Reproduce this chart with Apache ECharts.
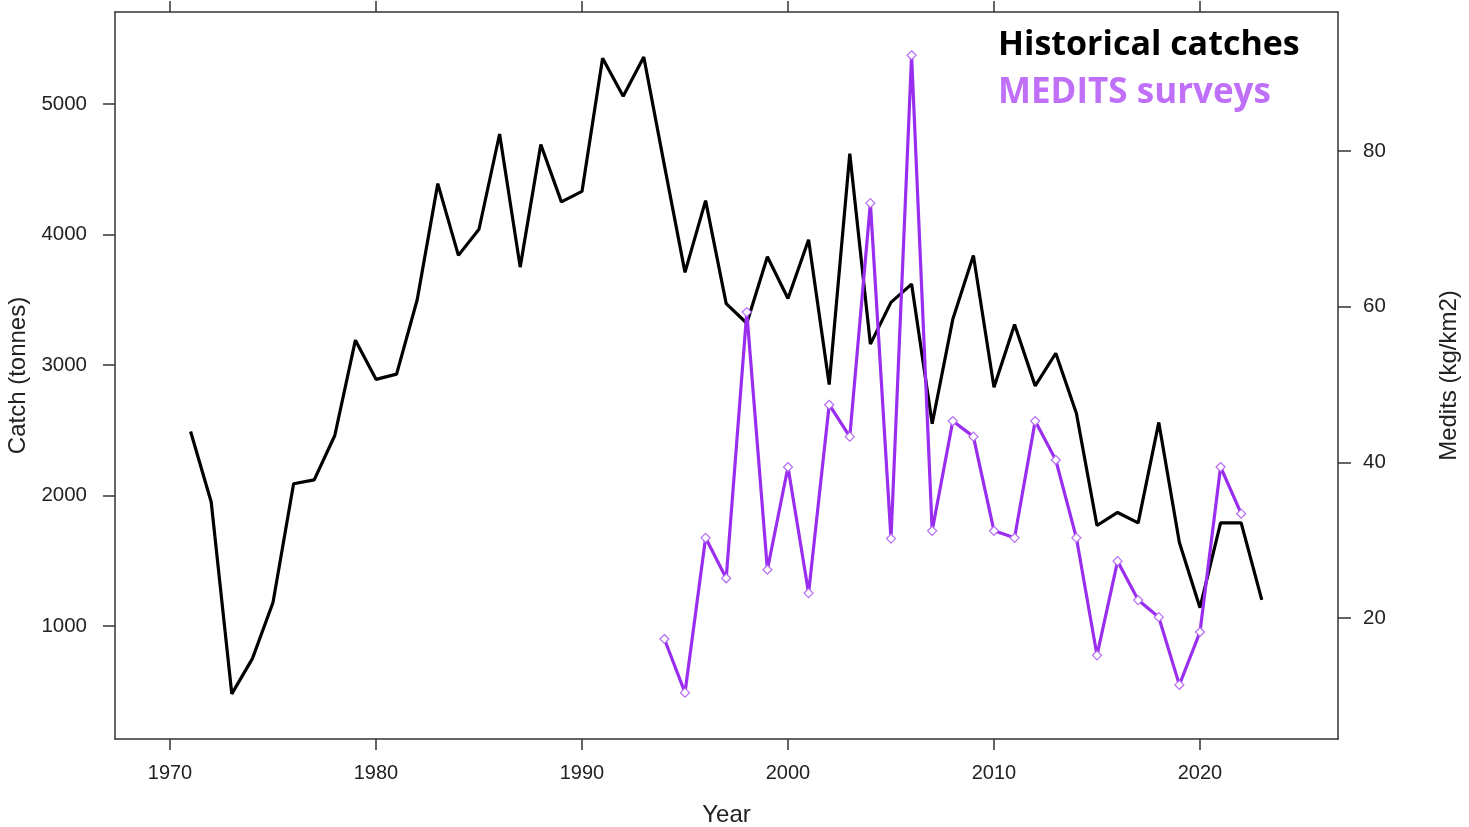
<!DOCTYPE html>
<html>
<head>
<meta charset="utf-8">
<script src="https://cdn.jsdelivr.net/npm/echarts@6/dist/echarts.min.js"></script>
<style>
html,body{margin:0;padding:0;background:#fff;}
#chart{width:1469px;height:827px;}
</style>
</head>
<body>
<div id="chart"></div>
<script>
// ---- data ----
const catchYears = [1971,1972,1973,1974,1975,1976,1977,1978,1979,1980,1981,1982,1983,1984,1985,1986,1987,1988,1989,1990,1991,1992,1993,1994,1995,1996,1997,1998,1999,2000,2001,2002,2003,2004,2005,2006,2007,2008,2009,2010,2011,2012,2013,2014,2015,2016,2017,2018,2019,2020,2021,2022,2023];
const catchTonnes = [2490,1950,480,750,1180,2090,2120,2460,3190,2890,2930,3500,4390,3840,4040,4770,3750,4690,4250,4330,5350,5060,5360,4530,3710,4260,3470,3320,3830,3510,3960,2850,4620,3160,3480,3620,2550,3350,3840,2830,3310,2840,3090,2630,1770,1870,1790,2560,1640,1140,1790,1790,1200];
const meditsYears = [1994,1995,1996,1997,1998,1999,2000,2001,2002,2003,2004,2005,2006,2007,2008,2009,2010,2011,2012,2013,2014,2015,2016,2017,2018,2019,2020,2021,2022];
const meditsKgKm2 = [17.3,10.4,30.3,25.1,59.3,26.2,39.4,23.2,47.4,43.3,73.3,30.2,92.3,31.2,45.3,43.3,31.2,30.3,45.3,40.3,30.3,15.2,27.3,22.3,20.1,11.4,18.2,39.4,33.4];
const xTicks = [1970,1980,1990,2000,2010,2020];
const leftTicks = [1000,2000,3000,4000,5000];
const rightTicks = [20,40,60,80];

const chart = echarts.init(document.getElementById('chart'));
const axisColor = '#333';
const labelColor = '#222';
const fontFam = '"Liberation Sans", Arial, sans-serif';

const catchData = catchYears.map((y,i)=>[y,catchTonnes[i]]);
const meditsData = meditsYears.map((y,i)=>[y,meditsKgKm2[i]]);

const xMin = 1967.33, xMax = 2026.7;

chart.setOption({
  animation:false,
  backgroundColor:'#fff',
  grid:{left:115,right:131,top:12,bottom:88,containLabel:false,outerBoundsMode:'none'},
  xAxis:[{
    type:'value', position:'bottom', min:xMin, max:xMax,
    name:'Year', nameLocation:'middle', nameGap:64,
    nameTextStyle:{fontSize:24,color:labelColor,fontFamily:fontFam},
    axisLine:{show:true,onZero:false,lineStyle:{color:axisColor,width:1.5}},
    axisTick:{show:true,inside:false,length:11,customValues:xTicks,lineStyle:{color:axisColor,width:1.5}},
    axisLabel:{show:true,customValues:xTicks,margin:24,fontSize:20,color:labelColor,fontFamily:fontFam,formatter:v=>String(v)},
    splitLine:{show:false}
  },{
    type:'value', position:'top', min:xMin, max:xMax,
    axisLine:{show:true,onZero:false,lineStyle:{color:axisColor,width:1.5}},
    axisTick:{show:true,inside:false,length:11,customValues:xTicks,lineStyle:{color:axisColor,width:1.5}},
    axisLabel:{show:false},
    splitLine:{show:false}
  }],
  yAxis:[{
    type:'value', position:'left', min:134, max:5705,
    name:'Catch (tonnes)', nameLocation:'middle', nameGap:78, nameRotate:90,
    nameTextStyle:{fontSize:24,color:labelColor,fontFamily:fontFam},
    axisLine:{show:true,onZero:false,lineStyle:{color:axisColor,width:1.5}},
    axisTick:{show:true,inside:false,length:12,customValues:leftTicks,lineStyle:{color:axisColor,width:1.5}},
    axisLabel:{show:true,customValues:leftTicks,margin:28,fontSize:20.5,color:labelColor,fontFamily:fontFam,formatter:v=>String(v)},
    splitLine:{show:false}
  },{
    type:'value', position:'right', min:4.45, max:97.86,
    name:'Medits (kg/km2)', nameLocation:'middle', nameGap:99, nameRotate:90,
    nameTextStyle:{fontSize:24,color:labelColor,fontFamily:fontFam},
    axisLine:{show:true,onZero:false,lineStyle:{color:axisColor,width:1.5}},
    axisTick:{show:true,inside:false,length:13,customValues:rightTicks,lineStyle:{color:axisColor,width:1.5}},
    axisLabel:{show:true,customValues:rightTicks,margin:25,fontSize:20.5,color:labelColor,fontFamily:fontFam,formatter:v=>String(v)},
    splitLine:{show:false}
  }],
  series:[{
    name:'Historical catches', type:'line', xAxisIndex:0, yAxisIndex:0,
    data:catchData, showSymbol:false, symbol:'none',
    lineStyle:{color:'#000',width:3.2}, itemStyle:{color:'#000'}
  },{
    name:'MEDITS surveys', type:'line', xAxisIndex:0, yAxisIndex:1,
    data:meditsData, showSymbol:true, symbol:'diamond', symbolSize:9,
    lineStyle:{color:'#9A2EEF',width:3.2},
    itemStyle:{color:'#fff',borderColor:'#B56CF2',borderWidth:1.2},
    z:3
  }],
  graphic:[{
    type:'text', left:998, top:28,
    style:{text:'Historical catches', fill:'#000', font:'bold 34px "Open Sans", Lato, sans-serif'}
  },{
    type:'text', left:998, top:76,
    style:{text:'MEDITS surveys', fill:'#C070F8', font:'bold 35px "Open Sans", Lato, sans-serif'}
  }]
});
</script>
</body>
</html>
